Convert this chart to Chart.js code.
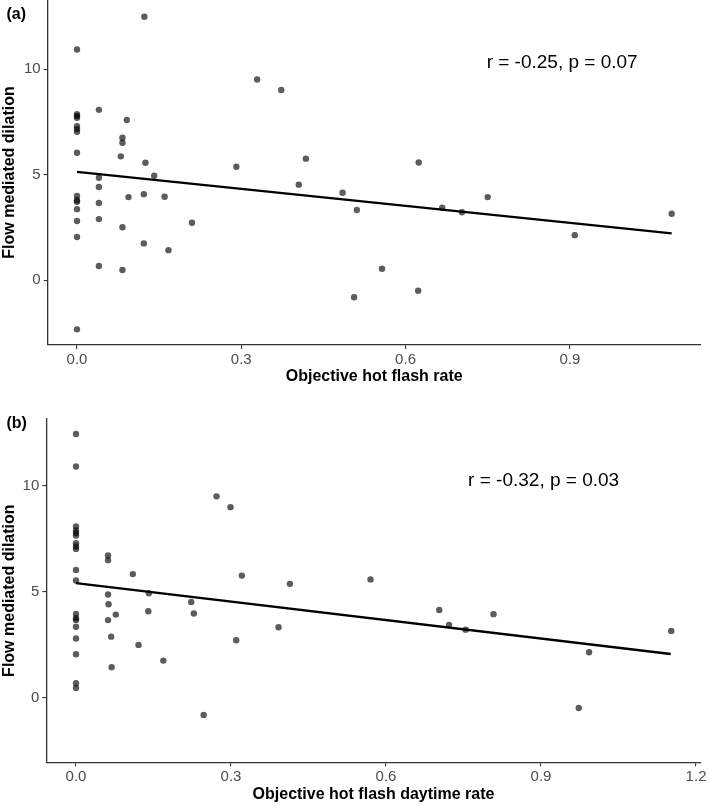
<!DOCTYPE html>
<html>
<head>
<meta charset="utf-8">
<title>Flow mediated dilation vs hot flash rate</title>
<script src="https://cdn.jsdelivr.net/npm/chart.js@4/dist/chart.umd.min.js"></script>
<style>
  html, body { margin: 0; padding: 0; background: #fff; }
  body { width: 709px; height: 805px; position: relative; overflow: hidden; }
  .panel { position: absolute; left: 0; width: 709px; }
  #wrapA { top: -8px; height: 398px; }
  #wrapB { top: 395px; height: 410px; }
</style>
</head>
<body>
<div class="panel" id="wrapA"><canvas id="chartA" width="709" height="398"></canvas></div>
<div class="panel" id="wrapB"><canvas id="chartB" width="709" height="410"></canvas></div>
<script>
// panel (a): objective hot flash rate vs FMD
var rateA = [0, 0, 0, 0, 0, 0, 0, 0, 0, 0, 0, 0, 0, 0, 0,
             0.040, 0.040, 0.040, 0.040, 0.040, 0.040,
             0.083, 0.083, 0.080, 0.083, 0.083, 0.091, 0.094,
             0.125, 0.122, 0.122, 0.123, 0.141, 0.160, 0.167, 0.210,
             0.291, 0.329, 0.373, 0.418, 0.405, 0.485, 0.511, 0.557, 0.506,
             0.624, 0.623, 0.667, 0.703, 0.750, 0.909, 1.086];
var fmdA = [10.93, 7.86, 7.78, 7.70, 7.30, 7.16, 7.03, 6.04, 3.99, 3.79, 3.72, 3.37, 2.81, 2.05, -2.32,
            8.07, 4.86, 4.42, 3.66, 2.90, 0.68,
            6.75, 6.51, 5.87, 2.51, 0.49, 7.59, 3.94,
            5.57, 4.08, 1.75, 12.48, 4.95, 3.96, 1.43, 2.73,
            5.38, 9.51, 9.01, 5.76, 4.53, 4.15, 3.33, 0.55, -0.80,
            5.58, -0.49, 3.44, 3.22, 3.94, 2.14, 3.15];
var fitA = [{x: 0, y: 5.13}, {x: 1.086, y: 2.22}];
var xTicksA = [0, 0.3, 0.6, 0.9];

// panel (b): objective hot flash daytime rate vs FMD
var rateB = [0, 0, 0, 0, 0, 0, 0, 0, 0, 0, 0, 0, 0, 0, 0, 0, 0, 0, 0,
             0.062, 0.062, 0.062, 0.062, 0.063, 0.068, 0.069, 0.077,
             0.110, 0.141, 0.140, 0.121, 0.169, 0.223, 0.228, 0.247,
             0.272, 0.299, 0.310, 0.321, 0.414, 0.392, 0.570,
             0.703, 0.722, 0.754, 0.808, 0.993, 0.973, 1.152];
var fmdB = [12.44, 10.91, 8.08, 7.89, 7.77, 7.65, 7.29, 7.13, 7.02, 6.03, 5.53, 3.95, 3.75, 3.67, 3.35, 2.79, 2.05, 0.68, 0.46,
            6.71, 6.49, 4.87, 3.66, 4.41, 2.88, 1.44, 3.92,
            5.83, 4.93, 4.08, 2.49, 1.75, 4.52, 3.97, -0.82,
            9.50, 8.99, 2.71, 5.76, 5.37, 3.32, 5.58,
            4.14, 3.43, 3.21, 3.94, 2.14, -0.49, 3.15];
var fitB = [{x: 0, y: 5.40}, {x: 1.151, y: 2.06}];
var xTicksB = [0, 0.3, 0.6, 0.9, 1.2];

var yTicks = [0, 5, 10];

function toPoints(xs, ys) {
  return xs.map(function(x, i) { return {x: x, y: ys[i]}; });
}

var FONT = '"Liberation Sans", Arial, sans-serif';
var AXIS = '#333333';

// titles, panel tag and r/p annotation
var labelsPlugin = {
  id: 'panelText',
  afterDraw: function(chart) {
    var o = chart.options.plugins.panelText;
    var a = chart.chartArea;
    var ctx = chart.ctx;
    ctx.save();
    ctx.fillStyle = '#000';
    ctx.font = 'bold 16px ' + FONT;
    ctx.textBaseline = 'middle';

    ctx.textAlign = 'left';
    ctx.fillText(o.tag, 6.5, o.tagY);

    ctx.textAlign = 'center';
    ctx.fillText(o.xTitle, (a.left + a.right) / 2, a.bottom + o.xTitleGap);

    ctx.save();
    ctx.translate(9.5, (a.top + a.bottom) / 2);
    ctx.rotate(-Math.PI / 2);
    ctx.fillText(o.yTitle, 0, 0);
    ctx.restore();

    ctx.font = '19px ' + FONT;
    ctx.fillText(o.note,
      chart.scales.x.getPixelForValue(o.noteAt[0]),
      chart.scales.y.getPixelForValue(o.noteAt[1]));
    ctx.restore();
  }
};

function makeChart(id, cfg) {
  var tickFont = {family: FONT, size: 15};
  new Chart(document.getElementById(id), {
    type: 'scatter',
    data: {
      datasets: [{
        data: toPoints(cfg.xs, cfg.ys),
        backgroundColor: 'rgba(0,0,0,0.64)',
        borderWidth: 0,
        pointRadius: 3.2,
        clip: false
      }, {
        data: cfg.fit,
        showLine: true,
        borderColor: '#000',
        borderWidth: 2.3,
        pointRadius: 0,
        clip: false
      }]
    },
    options: {
      responsive: false,
      animation: false,
      events: [],
      layout: {padding: {top: cfg.padTop, right: 8.3, left: 0, bottom: 0}},
      plugins: {
        legend: {display: false},
        tooltip: {enabled: false},
        panelText: {
          tag: cfg.tag, tagY: cfg.tagY,
          xTitle: cfg.xTitle, xTitleGap: cfg.xTitleGap,
          yTitle: 'Flow mediated dilation',
          note: cfg.note, noteAt: cfg.noteAt
        }
      },
      scales: {
        x: {
          type: 'linear',
          min: cfg.xMin, max: cfg.xMax,
          afterBuildTicks: function(s) { s.ticks = cfg.xTicks.map(function(v) { return {value: v}; }); },
          afterFit: function(s) { s.height = cfg.xAxisH; },
          ticks: {
            color: '#4d4d4d', font: tickFont, padding: 2, maxRotation: 0,
            callback: function(v) { return v.toFixed(1); }
          },
          grid: {drawOnChartArea: false, tickLength: 4, color: AXIS, lineWidth: 1.1},
          border: {display: true, color: AXIS, width: 1.3}
        },
        y: {
          type: 'linear',
          min: cfg.yMin, max: cfg.yMax,
          afterBuildTicks: function(s) { s.ticks = yTicks.map(function(v) { return {value: v}; }); },
          afterFit: function(s) {
            s.width = cfg.yAxisW;
            s.paddingTop = 0;
            s.paddingBottom = 0;
          },
          ticks: {
            color: '#4d4d4d', font: tickFont, padding: 3,
            callback: function(v) { return String(v); }
          },
          grid: {drawOnChartArea: false, tickLength: 4, color: AXIS, lineWidth: 1.1},
          border: {display: true, color: AXIS, width: 1.3}
        }
      }
    },
    plugins: [labelsPlugin]
  });
}

// canvas A starts 8px above the page so its plot area can touch the top edge
makeChart('chartA', {
  xs: rateA, ys: fmdA, fit: fitA, xTicks: xTicksA,
  xMin: -0.0535, xMax: 1.139, yMin: -3.06, yMax: 13.27,
  padTop: 8, xAxisH: 45, yAxisW: 47.7,
  tag: '(a)', tagY: 23,
  xTitle: 'Objective hot flash rate', xTitleGap: 32,
  note: 'r = -0.25, p = 0.07', noteAt: [0.886, 10.28]
});

makeChart('chartB', {
  xs: rateB, ys: fmdB, fit: fitB, xTicks: xTicksB,
  xMin: -0.0575, xMax: 1.209, yMin: -3.05, yMax: 13.15,
  padTop: 24, xAxisH: 42.7, yAxisW: 46.3,
  tag: '(b)', tagY: 29,
  xTitle: 'Objective hot flash daytime rate', xTitleGap: 32.5,
  note: 'r = -0.32, p = 0.03', noteAt: [0.905, 10.25]
});
</script>
</body>
</html>
